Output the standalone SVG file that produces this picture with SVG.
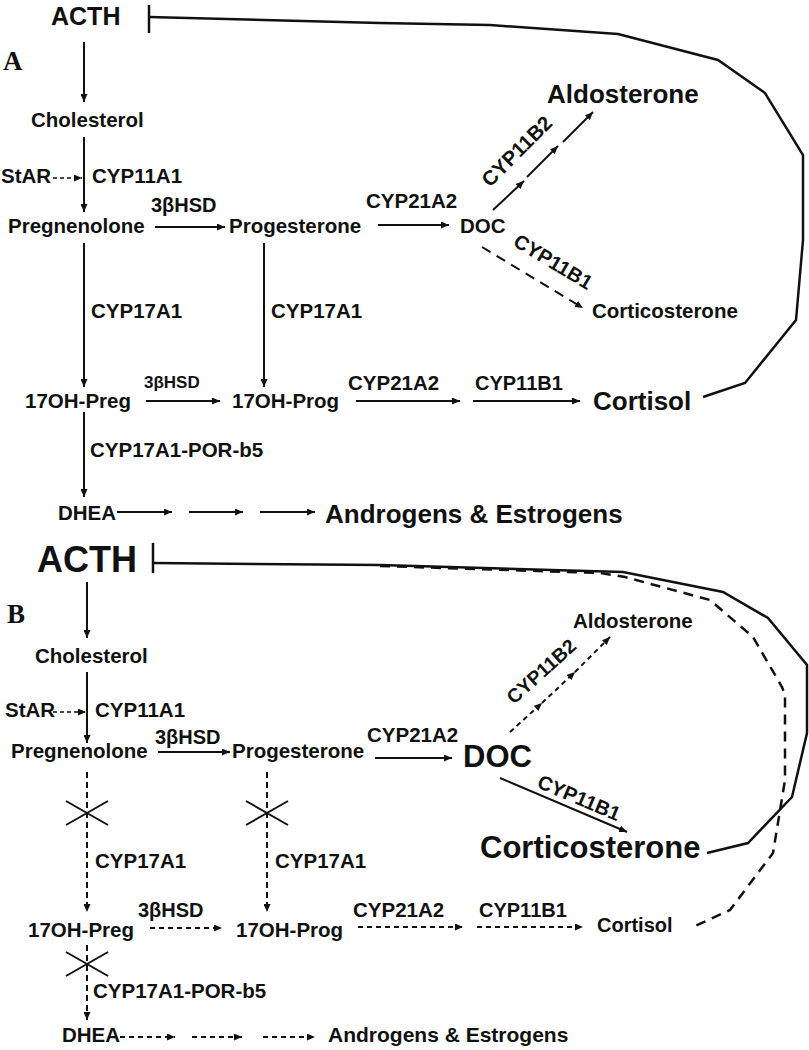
<svg xmlns="http://www.w3.org/2000/svg" width="809" height="1050" viewBox="0 0 809 1050">
<style>
text{font-family:"Liberation Sans",Arial,Helvetica,sans-serif;font-weight:bold;fill:#111}
.m{font-size:20.5px}
.s{font-size:17px}
.l{font-size:26px}
.pl{font-family:"Liberation Serif","Times New Roman",serif;font-size:27px}
.ar{stroke:#111;stroke-width:2;fill:none;marker-end:url(#ah)}
.da{stroke:#111;stroke-width:2;fill:none;stroke-dasharray:6 4;marker-end:url(#ah)}
.fb{stroke:#111;stroke-width:2.5;fill:none;stroke-linejoin:miter}
.x{stroke:#111;stroke-width:2;fill:none}
</style>
<defs>
<marker id="ah" markerUnits="userSpaceOnUse" markerWidth="9" markerHeight="7" refX="8" refY="3.5" orient="auto">
<path d="M0,0 L8,3.5 L0,7 z" fill="#111"/>
</marker>
</defs>
<rect width="809" height="1050" fill="#fff"/>

<g id="panelA">
<text id="labelA" class="pl" x="3" y="70">A</text>
<g id="A-ACTH"><text x="51" y="25" style="font-size:25px">ACTH</text></g>
<g id="A-Cholesterol"><text class="m" x="31" y="127">Cholesterol</text></g>
<g id="A-StAR"><text class="m" x="1" y="183">StAR</text></g>
<g id="A-Pregnenolone"><text class="m" x="8" y="233">Pregnenolone</text></g>
<g id="A-Progesterone"><text class="m" x="229" y="233">Progesterone</text></g>
<g id="A-DOC"><text class="m" x="460" y="233">DOC</text></g>
<g id="A-Aldosterone"><text class="l" x="547" y="103">Aldosterone</text></g>
<g id="A-Corticosterone"><text class="m" x="592" y="318">Corticosterone</text></g>
<g id="A-17OHPreg"><text class="m" x="25" y="408">17OH-Preg</text></g>
<g id="A-17OHProg"><text class="m" x="232" y="408">17OH-Prog</text></g>
<g id="A-Cortisol"><text class="l" x="593" y="410">Cortisol</text></g>
<g id="A-DHEA"><text class="m" x="58" y="520">DHEA</text></g>
<g id="A-AndEst"><text class="l" x="325" y="523">Androgens &amp; Estrogens</text></g>
<g id="A-enzymes">
<text class="m" x="92" y="183">CYP11A1</text>
<text class="m" x="151" y="212" style="font-size:20px">3βHSD</text>
<text class="m" x="366" y="208">CYP21A2</text>
<text class="m" transform="translate(490,188) rotate(-45)">CYP11B2</text>
<text class="m" transform="translate(512,245) rotate(31)" style="font-size:20px">CYP11B1</text>
<text class="m" x="91" y="318">CYP17A1</text>
<text class="m" x="271" y="318">CYP17A1</text>
<text class="s" x="144" y="388">3βHSD</text>
<text class="m" x="348" y="390">CYP21A2</text>
<text class="m" x="475" y="390" style="font-size:20px">CYP11B1</text>
<text class="m" x="90" y="457">CYP17A1-POR-b5</text>
</g>
</g>

<g id="connectorsA">
<line class="ar" x1="84" y1="42" x2="84" y2="102"/>
<line class="ar" x1="84" y1="137" x2="84" y2="212"/>
<line class="ar" x1="53" y1="178" x2="82" y2="178" style="stroke-width:1.5;stroke-dasharray:4 3"/>
<line class="ar" x1="155" y1="227" x2="225" y2="227"/>
<line class="ar" x1="378" y1="225" x2="449" y2="225"/>
<line class="ar" x1="493" y1="210" x2="524" y2="181"/>
<line class="ar" x1="527" y1="177" x2="558" y2="146"/>
<line class="ar" x1="563" y1="142" x2="593" y2="112"/>
<line class="ar" x1="482" y1="247" x2="583" y2="308" style="stroke-dasharray:10 7"/>
<line class="ar" x1="84" y1="243" x2="84" y2="387"/>
<line class="ar" x1="264" y1="243" x2="264" y2="387"/>
<line class="ar" x1="146" y1="401" x2="220" y2="401"/>
<line class="ar" x1="356" y1="401" x2="460" y2="401"/>
<line class="ar" x1="473" y1="401" x2="580" y2="401"/>
<line class="ar" x1="84" y1="412" x2="84" y2="497"/>
<line class="ar" x1="117" y1="512" x2="172" y2="512"/>
<line class="ar" x1="189" y1="512" x2="243" y2="512"/>
<line class="ar" x1="260" y1="512" x2="315" y2="512"/>
<line class="x" x1="149" y1="5" x2="149" y2="33" style="stroke-width:2.5"/>
<polyline class="fb" points="149,17 380,23 490,25 618,34 718,60 765,93 803,155 803,240 796,320 745,383 703,397"/>
</g>

<g id="panelB">
<text id="labelB" class="pl" x="7" y="623">B</text>
<g id="B-ACTH"><text x="37" y="572" style="font-size:36px">ACTH</text></g>
<g id="B-Cholesterol"><text class="m" x="35" y="663">Cholesterol</text></g>
<g id="B-StAR"><text class="m" x="5" y="717">StAR</text></g>
<g id="B-Pregnenolone"><text class="m" x="11" y="758">Pregnenolone</text></g>
<g id="B-Progesterone"><text class="m" x="232" y="758">Progesterone</text></g>
<g id="B-DOC"><text x="463" y="767" style="font-size:31px">DOC</text></g>
<g id="B-Aldosterone"><text class="m" x="573" y="628">Aldosterone</text></g>
<g id="B-Corticosterone"><text x="480" y="858" style="font-size:31px">Corticosterone</text></g>
<g id="B-17OHPreg"><text class="m" x="28" y="937">17OH-Preg</text></g>
<g id="B-17OHProg"><text class="m" x="236" y="937">17OH-Prog</text></g>
<g id="B-Cortisol"><text class="m" x="597" y="932" style="font-size:20px">Cortisol</text></g>
<g id="B-DHEA"><text class="m" x="62" y="1042">DHEA</text></g>
<g id="B-AndEst"><text x="328" y="1042" style="font-size:21px">Androgens &amp; Estrogens</text></g>
<g id="B-enzymes">
<text class="m" x="95" y="717">CYP11A1</text>
<text class="m" x="155" y="744" style="font-size:20px">3βHSD</text>
<text class="m" x="367" y="742">CYP21A2</text>
<text class="m" transform="translate(514,705) rotate(-42)" style="font-size:19.5px">CYP11B2</text>
<text class="m" transform="translate(536,787) rotate(23)" style="font-size:20px">CYP11B1</text>
<text class="m" x="95" y="868">CYP17A1</text>
<text class="m" x="275" y="868">CYP17A1</text>
<text class="m" x="138" y="917" style="font-size:20px">3βHSD</text>
<text class="m" x="353" y="917">CYP21A2</text>
<text class="m" x="479" y="917" style="font-size:20px">CYP11B1</text>
<text class="m" x="93" y="998">CYP17A1-POR-b5</text>
</g>
</g>

<g id="connectorsB">
<line class="ar" x1="87" y1="582" x2="87" y2="638"/>
<line class="ar" x1="87" y1="672" x2="87" y2="743"/>
<line class="ar" x1="53" y1="712" x2="86" y2="712" style="stroke-width:1.5;stroke-dasharray:4 3"/>
<line class="ar" x1="158" y1="752" x2="230" y2="752"/>
<line class="ar" x1="375" y1="758" x2="452" y2="758"/>
<line class="da" x1="510" y1="732" x2="542" y2="703" style="stroke-dasharray:5 4"/>
<line class="da" x1="542" y1="703" x2="575" y2="672" style="stroke-dasharray:5 4"/>
<line class="da" x1="575" y1="672" x2="610" y2="637" style="stroke-dasharray:5 4"/>
<line class="ar" x1="500" y1="778" x2="627" y2="832"/>
<line class="da" x1="87" y1="772" x2="87" y2="912"/>
<line class="da" x1="267" y1="772" x2="267" y2="912"/>
<line class="da" x1="150" y1="928" x2="222" y2="928" style="stroke-dasharray:5 4"/>
<line class="da" x1="358" y1="927" x2="463" y2="927" style="stroke-dasharray:5 4"/>
<line class="da" x1="477" y1="927" x2="583" y2="927" style="stroke-dasharray:5 4"/>
<line class="da" x1="87" y1="945" x2="87" y2="1020"/>
<line class="da" x1="120" y1="1037" x2="175" y2="1037" style="stroke-dasharray:5 4"/>
<line class="da" x1="192" y1="1037" x2="242" y2="1037" style="stroke-dasharray:5 4"/>
<line class="da" x1="263" y1="1037" x2="315" y2="1037" style="stroke-dasharray:5 4"/>
<path class="x" d="M66,801 L108,825 M108,801 L66,825"/>
<path class="x" d="M246,801 L288,825 M288,801 L246,825"/>
<path class="x" d="M66,952 L108,976 M108,952 L66,976"/>
<line class="x" x1="153" y1="543" x2="153" y2="573" style="stroke-width:2.5"/>
<polyline class="fb" points="153,563 380,565 623,572 723,592 768,618 807,665 807,733 792,797 748,843 707,853"/>
<polyline class="fb" points="380,566 600,573 625,577 710,600 753,637 782,687 785,695 785,780 773,853 730,910 693,927" style="stroke-dasharray:10 7"/>
</g>
</svg>
